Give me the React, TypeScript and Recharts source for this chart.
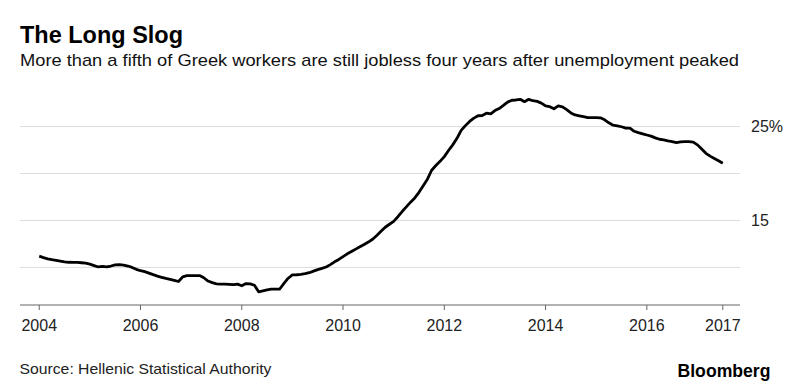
import React from "react";
import { LineChart, Line, XAxis, YAxis, ReferenceLine } from "recharts";

// Greek unemployment rate (%), monthly, Jan 2004 – Jul 2017
const years = [2004, 2005, 2006, 2007, 2008, 2009, 2010, 2011, 2012, 2013, 2014, 2015, 2016, 2017];
const rate2004 = [11.2, 11.05, 10.92, 10.82, 10.75, 10.67, 10.6, 10.55, 10.53, 10.53, 10.5, 10.45];
const rate2005 = [10.35, 10.2, 10.05, 10.12, 10.05, 10.15, 10.28, 10.3, 10.25, 10.15, 10.0, 9.8];
const rate2006 = [9.65, 9.55, 9.4, 9.23, 9.08, 8.95, 8.83, 8.73, 8.62, 8.5, 9.0, 9.13];
const rate2007 = [9.13, 9.13, 9.13, 8.9, 8.55, 8.38, 8.25, 8.23, 8.23, 8.2, 8.16, 8.22];
const rate2008 = [8.05, 8.28, 8.25, 8.1, 7.4, 7.5, 7.6, 7.7, 7.7, 7.7, 8.3, 8.85];
const rate2009 = [9.2, 9.22, 9.26, 9.33, 9.44, 9.6, 9.77, 9.9, 10.05, 10.3, 10.6, 10.85];
const rate2010 = [11.15, 11.45, 11.7, 11.95, 12.2, 12.45, 12.7, 13.0, 13.4, 13.85, 14.28, 14.6];
const rate2011 = [14.91, 15.4, 15.95, 16.45, 16.95, 17.4, 18.0, 18.7, 19.4, 20.35, 20.85, 21.3];
const rate2012 = [21.8, 22.45, 23.05, 23.75, 24.6, 25.1, 25.55, 25.9, 26.15, 26.18, 26.42, 26.35];
const rate2013 = [26.7, 26.92, 27.25, 27.6, 27.8, 27.83, 27.9, 27.65, 27.9, 27.75, 27.68, 27.5];
const rate2014 = [27.2, 27.12, 26.9, 27.2, 27.1, 26.8, 26.45, 26.24, 26.15, 26.06, 25.96, 25.96];
const rate2015 = [25.96, 25.93, 25.72, 25.4, 25.15, 25.08, 24.98, 24.83, 24.83, 24.5, 24.35, 24.22];
const rate2016 = [24.1, 23.98, 23.8, 23.65, 23.58, 23.47, 23.4, 23.3, 23.38, 23.4, 23.4, 23.35];
const rate2017 = [23.05, 22.6, 22.15, 21.85, 21.6, 21.35, 21.1];

const ratesByYear = [
  rate2004, rate2005, rate2006, rate2007, rate2008, rate2009, rate2010,
  rate2011, rate2012, rate2013, rate2014, rate2015, rate2016, rate2017,
];

const data = years.flatMap((y, k) =>
  ratesByYear[k].map((v, m) => ({ t: y + m / 12, rate: v }))
);

const lastT = data[data.length - 1].t;
const xTicks = [2004, 2006, 2008, 2010, 2012, 2014, 2016, lastT];
const xTickLabels = ["2004", "2006", "2008", "2010", "2012", "2014", "2016", "2017"];
const yTicks = [10, 15, 20, 25];
const yTickLabels = ["", "15", "", "25%"];

const FONT = '"Liberation Sans", Arial, Helvetica, sans-serif';

export default function App() {
  return (
    <div style={{ position: "absolute", left: 0, top: 0, width: 800, height: 391, background: "#fff" }}>
      <LineChart
        width={800}
        height={391}
        data={data}
        margin={{ top: 89, right: 10, bottom: 56, left: 20 }}
      >
        {yTicks.map((v) => (
          <ReferenceLine key={v} y={v} stroke="#dcdcdc" strokeWidth={1} ifOverflow="extendDomain" />
        ))}
        <XAxis
          dataKey="t"
          type="number"
          domain={[2003.62, 2017.84]}
          ticks={xTicks}
          interval={0}
          tickFormatter={(v: number, i: number) => xTickLabels[i]}
          height={30}
          stroke="#666"
          axisLine={{ stroke: "#666", strokeWidth: 1.2 }}
          tickLine={{ stroke: "#666", strokeWidth: 1 }}
          tickSize={5}
          tickMargin={10}
          tick={{ fill: "#222", fontSize: 16, fontFamily: FONT }}
        />
        <YAxis
          orientation="right"
          type="number"
          domain={[6, 29]}
          ticks={yTicks}
          interval={0}
          tickFormatter={(v: number, i: number) => yTickLabels[i]}
          width={50}
          axisLine={false}
          tickLine={false}
          tickSize={0}
          tickMargin={11}
          tick={{ fill: "#222", fontSize: 16, fontFamily: FONT, textAnchor: "start" }}
        />
        <Line
          type="linear"
          dataKey="rate"
          stroke="#000"
          strokeWidth={2.8}
          dot={false}
          activeDot={false}
          isAnimationActive={false}
          strokeLinejoin="round"
        />
      </LineChart>
      <svg
        width={800}
        height={391}
        style={{ position: "absolute", left: 0, top: 0, pointerEvents: "none" }}
      >
        <text x={20} y={43} fontFamily={FONT} fontWeight="bold" fontSize={23} fill="#000" textLength={163} lengthAdjust="spacingAndGlyphs">
          The Long Slog
        </text>
        <text x={20} y={66} fontFamily={FONT} fontSize={17} fill="#111" textLength={719} lengthAdjust="spacingAndGlyphs">
          More than a fifth of Greek workers are still jobless four years after unemployment peaked
        </text>
        <text x={19.5} y={374} fontFamily={FONT} fontSize={15} fill="#222" textLength={252} lengthAdjust="spacingAndGlyphs">
          Source: Hellenic Statistical Authority
        </text>
        <text x={677.5} y={377} fontFamily={FONT} fontWeight="bold" fontSize={18} fill="#000" textLength={93} lengthAdjust="spacingAndGlyphs">
          Bloomberg
        </text>
      </svg>
    </div>
  );
}
